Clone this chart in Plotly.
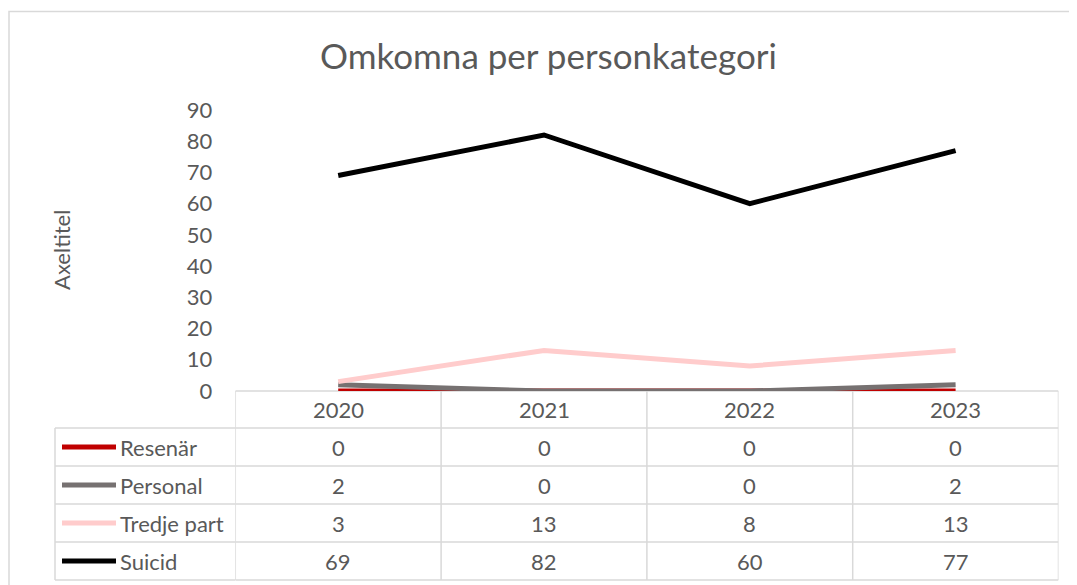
import plotly.graph_objects as go

# ---- data ----
years = ["2020", "2021", "2022", "2023"]
series_names = ["Resenär", "Personal", "Tredje part", "Suicid"]
resenar = [0, 0, 0, 0]
personal = [2, 0, 0, 2]
tredje_part = [3, 13, 8, 13]
suicid = [69, 82, 60, 77]
series_values = [resenar, personal, tredje_part, suicid]
series_colors = ["#C00000", "#767171", "#FFCCCC", "#000000"]
y_ticks = [0, 10, 20, 30, 40, 50, 60, 70, 80, 90]

W, H = 1077, 585
OFF = 8  # page body margin
TXT = "#595959"
GRID = "#D9D9D9"
FONT = "Lato, 'Open Sans', sans-serif"
FS = 22


def px(x):
    return (x - OFF) / W


def py(y):
    return 1 - (y - OFF) / H


fig = go.Figure()
for name, vals, col in zip(series_names, series_values, series_colors):
    fig.add_trace(go.Scatter(x=years, y=vals, name=name, mode="lines",
                             line=dict(color=col, width=5), showlegend=False))

# plot area (pixel positions in the page)
x0p, x1p = 235.3, 1058.5
ytop, ybot = 110, 391

shapes = []
annotations = []

# outer chart border
shapes.append(dict(type="rect", xref="paper", yref="paper",
                   x0=px(9), x1=px(1120), y0=py(11.5), y1=py(640),
                   line=dict(color=GRID, width=1.5), layer="below"))

row_lines = [428, 466, 504, 542, 580]
row_centers = [447, 485, 523, 561]
header_center = 409.5

# header top line
shapes.append(dict(type="line", xref="x", yref="paper", x0=-0.5, x1=3.5,
                   y0=py(ybot), y1=py(ybot), line=dict(color=GRID, width=1.5), layer="below"))
for yl in row_lines:
    shapes.append(dict(type="line", xref="paper", yref="paper", x0=px(55), x1=px(x0p),
                       y0=py(yl), y1=py(yl), line=dict(color=GRID, width=1.5), layer="below"))
    shapes.append(dict(type="line", xref="x", yref="paper", x0=-0.5, x1=3.5,
                       y0=py(yl), y1=py(yl), line=dict(color=GRID, width=1.5), layer="below"))
for i in range(len(years) + 1):
    shapes.append(dict(type="line", xref="x", yref="paper", x0=i - 0.5, x1=i - 0.5,
                       y0=py(ybot), y1=py(580), line=dict(color=GRID, width=1.5), layer="below"))
shapes.append(dict(type="line", xref="paper", yref="paper", x0=px(55), x1=px(55),
                   y0=py(428), y1=py(580), line=dict(color=GRID, width=1.5), layer="below"))

# header texts (category index on the x axis)
for i, yr in enumerate(years):
    annotations.append(dict(x=i, xref="x", y=py(header_center), yref="paper", text=yr,
                            showarrow=False, xanchor="center", yanchor="middle",
                            font=dict(family=FONT, size=FS, color=TXT)))

for name, vals, col, yc in zip(series_names, series_values, series_colors, row_centers):
    shapes.append(dict(type="line", xref="paper", yref="paper", x0=px(62), x1=px(116),
                       y0=py(yc), y1=py(yc), line=dict(color=col, width=5)))
    annotations.append(dict(x=px(118), xref="paper", y=py(yc), yref="paper", text=name,
                            showarrow=False, xanchor="left", yanchor="middle",
                            font=dict(family=FONT, size=FS, color=TXT)))
    for i, v in enumerate(vals):
        annotations.append(dict(x=i, xref="x", y=py(yc), yref="paper", text=str(v),
                                showarrow=False, xanchor="center", yanchor="middle",
                                font=dict(family=FONT, size=FS, color=TXT)))

# axis title
annotations.append(dict(x=px(62), xref="paper", y=py(250), yref="paper", text="Axeltitel",
                        showarrow=False, textangle=-90, xanchor="center", yanchor="middle",
                        font=dict(family=FONT, size=FS, color=TXT)))

# chart title
annotations.append(dict(x=px(548), xref="paper", y=py(55), yref="paper",
                        text="Omkomna per personkategori",
                        showarrow=False, xanchor="center", yanchor="middle",
                        font=dict(family=FONT, size=35, color=TXT)))

fig.update_layout(
    width=W, height=H, autosize=False,
    margin=dict(l=0, r=0, t=0, b=0, pad=0, autoexpand=False),
    paper_bgcolor="white", plot_bgcolor="rgba(0,0,0,0)",
    xaxis=dict(type="category", domain=[px(x0p), px(x1p)], range=[-0.5, 3.5],
               showticklabels=False, showgrid=False, zeroline=False, showline=False,
               ticks="", automargin=False),
    yaxis=dict(domain=[py(ybot), py(ytop)], range=[0, 90], tickvals=y_ticks,
               showgrid=False, zeroline=False, showline=False, ticks="",
               ticklabelstandoff=22, automargin=False,
               tickfont=dict(family=FONT, size=FS, color=TXT)),
    shapes=shapes, annotations=annotations,
    showlegend=False,
)

fig.write_html("out.html")
